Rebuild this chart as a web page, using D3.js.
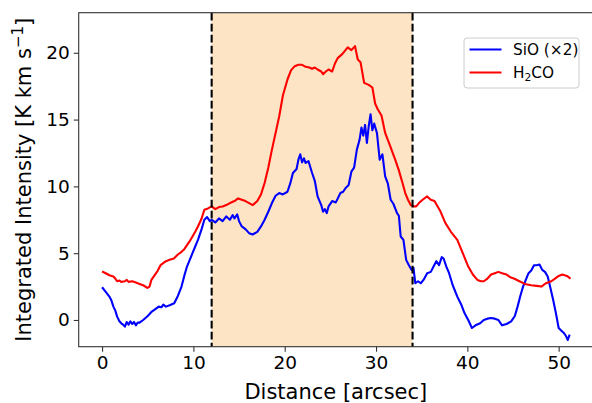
<!DOCTYPE html>
<html><head><meta charset="utf-8">
<script src="https://cdn.jsdelivr.net/npm/d3@7"></script>
<style>body{margin:0;background:#fff}svg{display:block;font-family:"DejaVu Sans",sans-serif}</style>
</head><body><svg id="c" width="592" height="403"></svg>
<script>
const xTicks=[0,10,20,30,40,50];
const yTicks=[0,5,10,15,20];
const region=[12,34];
const sioX=[0,0.4,0.8,1.0,1.24,1.45,1.65,1.9,2.1,2.3,2.5,2.7,2.9,3.1,3.3,3.5,3.7,3.9,4.1,4.5,5.0,5.4,5.8,6.2,6.5,6.7,7.0,7.4,7.9,8.3,8.7,9.0,9.3,9.6,9.9,10.2,10.5,10.9,11.2,11.5,11.8,12.0,12.4,12.8,13.2,13.6,14.0,14.3,14.5,14.8,15.0,15.3,15.7,16.1,16.5,17.0,17.4,17.8,18.2,18.6,19.0,19.4,19.8,20.3,20.6,20.9,21.3,21.5,21.7,21.9,22.1,22.3,22.6,23.0,23.3,23.6,24.0,24.2,24.4,24.6,24.8,25.2,25.6,26.1,26.4,26.7,27.0,27.3,27.6,27.9,28.2,28.4,28.6,28.8,29.0,29.2,29.4,29.6,29.8,30.1,30.4,30.7,31.0,31.3,31.6,31.9,32.3,32.5,32.7,33.0,33.3,33.6,33.9,34.1,34.3,34.6,34.9,35.2,35.6,36.0,36.3,36.6,36.9,37.2,37.4,37.7,38.0,38.4,38.9,39.3,39.7,40.1,40.5,40.9,41.4,41.8,42.2,42.6,43.0,43.4,43.8,44.3,44.8,45.2,45.5,45.8,46.1,46.4,46.7,47.0,47.3,47.6,47.9,48.2,48.5,48.8,49.1,49.4,49.7,50.0,50.3,50.6,50.8,51.0,51.2];
const sioY=[2.45,2.1,1.75,1.5,1.0,0.7,0.25,-0.1,-0.25,-0.35,-0.5,-0.15,-0.35,-0.1,-0.3,-0.15,-0.4,-0.2,-0.2,0.0,0.3,0.6,0.8,1.0,0.95,1.15,1.0,1.1,1.25,1.8,2.5,3.3,4.0,4.5,5.0,5.5,6.0,6.8,7.5,7.7,7.4,7.5,7.3,7.6,7.4,7.75,7.5,7.85,7.6,7.9,7.4,7.0,6.8,6.5,6.4,6.6,7.0,7.5,8.1,8.75,9.3,9.5,9.4,9.6,10.2,11.0,11.3,12.0,12.4,11.8,12.1,11.75,11.9,11.0,10.4,9.25,8.6,8.1,8.3,8.0,8.5,8.9,8.8,9.5,9.6,9.9,10.1,11.1,11.4,12.75,13.5,14.4,13.8,14.6,13.25,14.5,15.4,14.2,14.7,14.0,12.0,12.4,10.75,10.2,9.0,8.7,8.0,7.8,6.25,6.0,4.5,4.1,3.75,3.9,2.75,2.9,2.75,3.0,3.5,3.6,4.0,4.4,4.1,4.7,4.6,4.0,3.5,2.6,1.75,1.2,0.5,0.0,-0.6,-0.4,-0.25,0.0,0.1,0.15,0.1,0.0,-0.4,-0.3,-0.1,0.3,1.0,1.8,2.5,3.0,3.5,3.7,4.1,4.1,4.15,3.75,3.6,3.25,2.4,1.5,0.5,-0.6,-0.8,-1.0,-1.2,-1.5,-1.1];
const h2coX=[0,0.4,0.8,1.24,1.45,1.65,1.9,2.1,2.5,2.7,2.9,3.3,3.7,4.1,4.5,4.96,5.2,5.4,5.8,6.1,6.4,7.0,7.4,7.86,8.3,8.7,9.0,9.3,9.6,9.9,10.2,10.5,10.9,11.2,11.6,12.0,12.4,12.8,13.2,13.6,14.0,14.5,14.9,15.3,15.7,16.1,16.5,17.0,17.4,17.8,18.2,18.6,19.0,19.4,19.8,20.3,20.7,21.1,21.5,21.9,22.3,22.7,23.0,23.3,23.6,24.0,24.2,24.5,24.8,25.2,25.5,25.8,26.3,26.9,27.3,27.7,28.0,28.3,28.7,29.2,29.6,29.9,30.2,30.6,31.0,31.5,32.1,32.5,32.9,33.2,33.5,33.8,34.1,34.4,34.7,35.1,35.6,36.0,36.4,37.0,37.6,38.2,38.9,39.5,40.1,40.6,41.1,41.5,41.8,42.2,42.6,43.0,43.4,43.8,44.3,44.7,45.1,45.7,46.3,47.0,47.6,48.1,48.6,49.2,49.6,50.0,50.4,50.9,51.3];
const h2coY=[3.63,3.5,3.35,3.25,3.1,2.9,2.95,2.85,2.9,3.0,2.85,2.9,2.8,2.7,2.6,2.4,2.5,3.0,3.4,3.7,4.1,4.4,4.5,4.6,4.9,5.1,5.3,5.6,5.9,6.25,6.6,7.0,7.6,8.25,8.35,8.5,8.3,8.45,8.5,8.6,8.75,8.9,9.1,9.0,8.9,8.75,8.6,8.9,9.4,10.25,11.4,12.75,14.0,15.25,16.8,18.0,18.7,19.0,19.1,19.1,18.95,18.9,18.8,18.9,18.75,18.6,18.4,18.6,18.75,18.6,19.2,19.6,19.9,20.4,20.2,20.5,19.5,19.3,17.75,17.6,17.4,16.2,15.75,15.3,14.0,13.1,12.0,11.2,10.25,9.5,9.0,8.6,8.5,8.5,8.75,9.0,9.25,9.0,8.9,8.2,7.25,6.6,6.0,5.0,4.0,3.4,3.0,2.9,2.9,3.1,3.4,3.5,3.6,3.5,3.4,3.2,3.1,2.9,2.7,2.6,2.55,2.5,2.75,2.9,3.1,3.3,3.4,3.3,3.1,2.8];

const svg=d3.select("#c");
const L=78.7,R=593,T=12.7,B=346.7;
const x=d3.scaleLinear().domain([-2.56,53.76]).range([L,R]);
const y=d3.scaleLinear().domain([-2,23]).range([B,T]);

svg.append("rect").attr("x",x(region[0])).attr("y",T).attr("width",x(region[1])-x(region[0])).attr("height",B-T).attr("fill","#fde4c4");

const line=d3.line().x(d=>x(d[0])).y(d=>y(d[1]));
svg.append("path").datum(sioX.map((v,i)=>[v,sioY[i]])).attr("d",line).attr("fill","none").attr("stroke","#0000ff").attr("stroke-width",2.1).attr("stroke-linejoin","round");
svg.append("path").datum(h2coX.map((v,i)=>[v,h2coY[i]])).attr("d",line).attr("fill","none").attr("stroke","#ff0000").attr("stroke-width",2.1).attr("stroke-linejoin","round");

region.forEach(r=>{
  svg.append("line").attr("x1",x(r)).attr("x2",x(r)).attr("y1",T).attr("y2",B).attr("stroke","#000").attr("stroke-width",2.1).attr("stroke-dasharray","7.7,3.3");
});

const xa=svg.append("g").attr("transform",`translate(0,${B})`).call(d3.axisBottom(x).tickValues(xTicks).tickSize(5).tickPadding(4).tickFormat(d3.format("d")));
const ya=svg.append("g").attr("transform",`translate(${L},0)`).call(d3.axisLeft(y).tickValues(yTicks).tickSize(5).tickPadding(4).tickFormat(d3.format("d")));
[xa,ya].forEach(a=>{a.selectAll("text").attr("font-size",18.5).attr("fill","#000").attr("font-family","DejaVu Sans");a.selectAll("line").attr("stroke","#333").attr("stroke-width",1.1);a.select(".domain").remove();});
svg.append("rect").attr("x",L).attr("y",T).attr("width",R-L).attr("height",B-T).attr("fill","none").attr("stroke","#333").attr("stroke-width",1.1);

svg.append("text").attr("x",(L+R)/2).attr("y",399).attr("text-anchor","middle").attr("font-size",21).text("Distance [arcsec]");
const yl=svg.append("text").attr("transform",`translate(31,${(T+B)/2}) rotate(-90)`).attr("text-anchor","middle").attr("font-size",21);
yl.append("tspan").text("Integrated Intensity [K km s");
yl.append("tspan").attr("dy",-8).attr("font-size",15).text("−1");
yl.append("tspan").attr("dy",8).text("]");

const lg=svg.append("g");
lg.append("rect").attr("x",464).attr("y",38).attr("width",115).attr("height",50).attr("rx",3).attr("fill","#fff").attr("fill-opacity",0.8).attr("stroke","#ccc");
lg.append("line").attr("x1",469.5).attr("x2",501.5).attr("y1",49.5).attr("y2",49.5).attr("stroke","#0000ff").attr("stroke-width",2.1);
lg.append("line").attr("x1",469.5).attr("x2",501.5).attr("y1",72.5).attr("y2",72.5).attr("stroke","#ff0000").attr("stroke-width",2.1);
lg.append("text").attr("x",513).attr("y",55).attr("font-size",15.3).text("SiO (×2)");
const t2=lg.append("text").attr("x",513).attr("y",78).attr("font-size",15.3);
t2.append("tspan").text("H");
t2.append("tspan").attr("dy",3).attr("font-size",10.7).text("2");
t2.append("tspan").attr("dy",-3).text("CO");
</script></body></html>
